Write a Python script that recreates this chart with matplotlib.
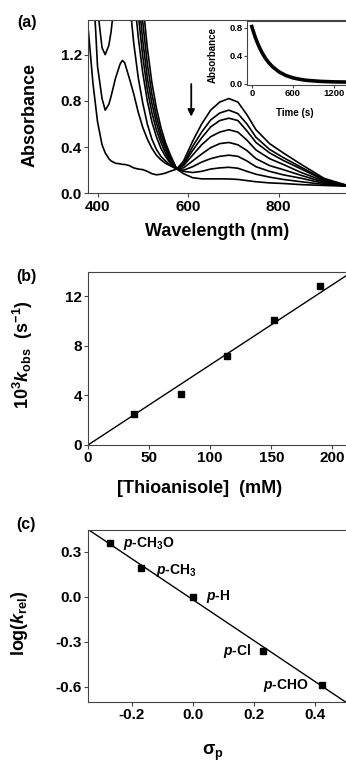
import matplotlib
matplotlib.use("Agg")
import matplotlib.pyplot as plt

plt.rcParams['font.family'] = ['Liberation Sans', 'DejaVu Sans']
plt.rcParams['font.weight'] = 'bold'
plt.rcParams['axes.unicode_minus'] = False
plt.rcParams['mathtext.fontset'] = 'custom'
plt.rcParams['mathtext.rm'] = 'Liberation Sans:bold'
plt.rcParams['mathtext.bf'] = 'Liberation Sans:bold'
plt.rcParams['mathtext.it'] = 'Liberation Sans:italic:bold'

# ---------------------------
# data
# ---------------------------

# (a) UV-vis spectra, absorbance (values > 1.5 are off scale)
wavelength = [380, 390, 400, 410, 417, 425, 430, 440, 450, 455, 460, 470, 480, 490,
              500, 510, 520, 530, 540, 550, 560, 575, 590, 610, 630, 650, 670, 690,
              710, 730, 750, 780, 810, 850, 900, 950]

spectra = [
    [1.40, 0.95, 0.62, 0.42, 0.35, 0.30, 0.28, 0.26, 0.255, 0.25, 0.25, 0.24, 0.22, 0.21,
     0.205, 0.19, 0.17, 0.16, 0.165, 0.175, 0.19, 0.21, 0.17, 0.135, 0.125, 0.125, 0.125, 0.124,
     0.12, 0.11, 0.10, 0.09, 0.085, 0.075, 0.068, 0.062],
    [3.0, 1.85, 1.10, 0.82, 0.72, 0.77, 0.84, 1.00, 1.12, 1.15, 1.13, 1.00, 0.86, 0.70,
     0.57, 0.47, 0.39, 0.33, 0.29, 0.26, 0.24, 0.21, 0.19, 0.18, 0.19, 0.21, 0.22, 0.225,
     0.217, 0.19, 0.165, 0.14, 0.12, 0.10, 0.077, 0.063],
    [3.0, 2.3, 1.60, 1.26, 1.20, 1.28, 1.40, 1.75, 2.1, 2.2, 2.2, 1.70, 1.30, 1.00,
     0.78, 0.60, 0.47, 0.38, 0.32, 0.28, 0.245, 0.21, 0.20, 0.23, 0.27, 0.30, 0.32, 0.33,
     0.32, 0.28, 0.23, 0.19, 0.16, 0.13, 0.086, 0.064],
    [3.0, 3.0, 3.0, 3.0, 3.0, 3.0, 3.0, 3.0, 3.0, 3.0, 3.0, 2.3, 1.75, 1.35,
     1.04, 0.80, 0.62, 0.49, 0.39, 0.32, 0.265, 0.21, 0.22, 0.28, 0.34, 0.395, 0.43, 0.44,
     0.42, 0.37, 0.30, 0.24, 0.205, 0.155, 0.096, 0.066],
    [3.0, 3.0, 3.0, 3.0, 3.0, 3.0, 3.0, 3.0, 3.0, 3.0, 3.0, 2.6, 2.0, 1.55,
     1.18, 0.90, 0.70, 0.55, 0.44, 0.35, 0.28, 0.21, 0.24, 0.33, 0.42, 0.49, 0.53, 0.55,
     0.53, 0.46, 0.375, 0.30, 0.25, 0.18, 0.106, 0.067],
    [3.0, 3.0, 3.0, 3.0, 3.0, 3.0, 3.0, 3.0, 3.0, 3.0, 3.0, 3.0, 2.2, 1.72,
     1.32, 1.00, 0.78, 0.61, 0.48, 0.38, 0.30, 0.21, 0.25, 0.37, 0.48, 0.575, 0.63, 0.65,
     0.63, 0.54, 0.44, 0.35, 0.285, 0.21, 0.115, 0.068],
    [3.0, 3.0, 3.0, 3.0, 3.0, 3.0, 3.0, 3.0, 3.0, 3.0, 3.0, 3.0, 2.4, 1.90,
     1.48, 1.12, 0.86, 0.67, 0.52, 0.41, 0.32, 0.21, 0.26, 0.405, 0.53, 0.635, 0.695, 0.72,
     0.69, 0.60, 0.485, 0.38, 0.31, 0.225, 0.12, 0.069],
    [3.0, 3.0, 3.0, 3.0, 3.0, 3.0, 3.0, 3.0, 3.0, 3.0, 3.0, 3.0, 2.6, 2.10,
     1.65, 1.26, 0.96, 0.74, 0.57, 0.44, 0.34, 0.21, 0.28, 0.45, 0.60, 0.72, 0.79, 0.82,
     0.79, 0.68, 0.55, 0.43, 0.35, 0.25, 0.13, 0.07],
]

# inset: decay at 690 nm
time_s = [0, 50, 100, 150, 200, 250, 300, 400, 500, 600, 700, 800, 1000, 1200, 1400]
decay_abs = [0.82, 0.667, 0.544, 0.444, 0.363, 0.298, 0.245, 0.167, 0.116, 0.083,
             0.062, 0.047, 0.032, 0.025, 0.022]

# (b) k_obs vs thioanisole concentration
thioanisole = [38, 76, 114, 152, 190]
kobs = [2.47, 4.08, 7.17, 10.07, 12.8]
kobs_slope = 0.0646

# (c) Hammett plot
substituents = [r'$\mathit{p}$-CH$_{3}$O', r'$\mathit{p}$-CH$_{3}$', r'$\mathit{p}$-H',
                r'$\mathit{p}$-Cl', r'$\mathit{p}$-CHO']
sigma_p = [-0.27, -0.17, 0.0, 0.23, 0.42]
log_krel = [0.356, 0.193, 0.0, -0.362, -0.589]
rho = -1.366
rho_intercept = -0.0195

spine_col = '#444444'


def style_axes(ax, size=11):
    for s in ax.spines.values():
        s.set_color(spine_col)
        s.set_linewidth(0.8)
    ax.tick_params(direction='out', length=3, width=0.8, color=spine_col,
                   labelsize=size, pad=1.5)
    for lab in ax.get_xticklabels() + ax.get_yticklabels():
        lab.set_fontweight('bold')


fig = plt.figure(figsize=(3.46, 7.63), dpi=100)

# ---------------------------
# (a) spectra
# ---------------------------
ax1 = fig.add_axes([88 / 346, 1 - 193.3 / 763, 259 / 346, 173.3 / 763])
for spec in spectra:
    ax1.plot(wavelength, spec, color='black', lw=1.2)
ax1.set_xlim(379, 951)
ax1.set_ylim(0, 1.5)
ax1.set_xticks([400, 600, 800])
ax1.set_yticks([0.0, 0.4, 0.8, 1.2])
ax1.set_yticklabels(['0.0', '0.4', '0.8', '1.2'])
style_axes(ax1)
ax1.set_xlabel('Wavelength (nm)', fontsize=13, fontweight='bold')
ax1.set_ylabel('Absorbance', fontsize=13, fontweight='bold')
ax1.xaxis.set_label_coords(0.498, -0.17)
ax1.yaxis.set_label_coords(-0.19, 0.45)
ax1.annotate('', xy=(607, 0.64), xytext=(607, 0.97),
             arrowprops=dict(arrowstyle='-|>', color='black', lw=1.3,
                             mutation_scale=10))

# inset
axi = fig.add_axes([247 / 346, 1 - 85 / 763, 100 / 346, 64 / 763])
axi.plot(time_s, decay_abs, color='black', lw=2.6)
axi.set_xlim(-70, 1390)
axi.set_ylim(-0.02, 0.9)
axi.set_xticks([0, 600, 1200])
axi.set_yticks([0.0, 0.4, 0.8])
axi.set_yticklabels(['0.0', '0.4', '0.8'])
style_axes(axi, size=6.8)
axi.tick_params(length=2, pad=1)
axi.set_xlabel('Time (s)', fontsize=7, fontweight='bold')
axi.set_ylabel('Absorbance', fontsize=7, fontweight='bold')
axi.xaxis.set_label_coords(0.48, -0.36)
axi.yaxis.set_label_coords(-0.29, 0.47)

# ---------------------------
# (b) k_obs
# ---------------------------
ax2 = fig.add_axes([88 / 346, 1 - 445 / 763, 259 / 346, 173 / 763])
ax2.plot(thioanisole, kobs, 's', color='black', markersize=5)
ax2.axline((0, 0), slope=kobs_slope, color='black', lw=1.0)
ax2.set_xlim(0, 212)
ax2.set_ylim(0, 13.95)
ax2.set_xticks([0, 50, 100, 150, 200])
ax2.set_yticks([0, 4, 8, 12])
style_axes(ax2)
ax2.set_xlabel('[Thioanisole]  (mM)', fontsize=13, fontweight='bold')
ax2.set_ylabel(r'10$^{3}$$\mathit{k}_{\mathrm{obs}}$  (s$^{-1}$)', fontsize=13,
               fontweight='bold')
ax2.xaxis.set_label_coords(0.432, -0.20)
ax2.yaxis.set_label_coords(-0.205, 0.52)

# ---------------------------
# (c) Hammett
# ---------------------------
ax3 = fig.add_axes([88 / 346, 1 - 702 / 763, 259 / 346, 172 / 763])
ax3.plot(sigma_p, log_krel, 's', color='black', markersize=5)
ax3.axline((0, rho_intercept), slope=rho, color='black', lw=1.0)
ax3.set_xlim(-0.343, 0.503)
ax3.set_ylim(-0.70, 0.445)
ax3.set_xticks([-0.2, 0.0, 0.2, 0.4])
ax3.set_xticklabels(['-0.2', '0.0', '0.2', '0.4'])
ax3.set_yticks([0.3, 0.0, -0.3, -0.6])
ax3.set_yticklabels(['0.3', '0.0', '-0.3', '-0.6'])
style_axes(ax3)
offsets = [(9, 0), (11, -2), (9, 0), (-9, 0), (-9, 0)]
aligns = ['left', 'left', 'left', 'right', 'right']
for name, x, y, off, ha in zip(substituents, sigma_p, log_krel, offsets, aligns):
    ax3.annotate(name, (x, y), xytext=off, textcoords='offset points',
                 ha=ha, va='center', fontsize=10, fontweight='bold')
ax3.set_xlabel(r'σ$_{\mathrm{p}}$', fontsize=13, fontweight='bold')
ax3.set_ylabel(r'log($\mathit{k}_{\mathrm{rel}}$)', fontsize=13, fontweight='bold')
ax3.xaxis.set_label_coords(0.483, -0.235)
ax3.yaxis.set_label_coords(-0.225, 0.46)

# panel letters
fig.text(27 / 346, 1 - 22 / 763, '(a)', fontsize=11.5, fontweight='bold', ha='center', va='center')
fig.text(26 / 346, 1 - 277 / 763, '(b)', fontsize=11.5, fontweight='bold', ha='center', va='center')
fig.text(26 / 346, 1 - 525 / 763, '(c)', fontsize=11.5, fontweight='bold', ha='center', va='center')

fig.savefig('out.png', dpi=100)
